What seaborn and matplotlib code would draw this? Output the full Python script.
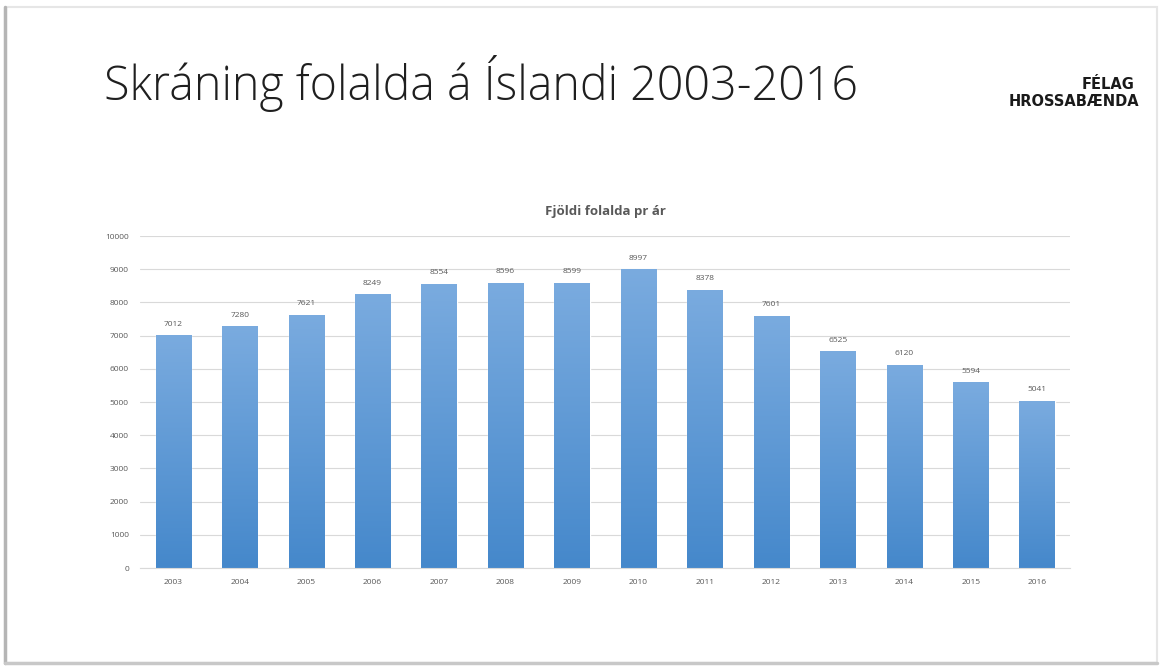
import numpy as np
import pandas as pd
import seaborn as sns
import matplotlib.pyplot as plt
from matplotlib.patches import Rectangle

years = ['2003', '2004', '2005', '2006', '2007', '2008', '2009',
         '2010', '2011', '2012', '2013', '2014', '2015', '2016']
foals = [7012, 7280, 7621, 8249, 8554, 8596, 8599,
         8997, 8378, 7601, 6525, 6120, 5594, 5041]
y_ticks = [0, 1000, 2000, 3000, 4000, 5000, 6000, 7000, 8000, 9000, 10000]

df = pd.DataFrame({'ár': years, 'fjöldi': foals})

sns.set_style("white")
plt.rcParams['font.family'] = ['Open Sans', 'DejaVu Sans']

fig = plt.figure(figsize=(11.6, 6.66), dpi=100)

# slide frame: darker on the left and bottom, faint on top
fig.patches.append(Rectangle((0.004, 0.004), 0.993, 0.985, transform=fig.transFigure,
                             fill=False, edgecolor='#e6e6e6', linewidth=1.5))
fig.lines.append(plt.Line2D([0.004, 0.004], [0.004, 0.989], transform=fig.transFigure,
                            color='#b5b5b5', linewidth=2.5))
fig.lines.append(plt.Line2D([0.004, 0.997], [0.004, 0.004], transform=fig.transFigure,
                            color='#c8c8c8', linewidth=2.5))

ax = fig.add_axes([0.1207, 0.147, 0.802, 0.4985])
sns.barplot(data=df, x='ár', y='fjöldi', color='#5b9bd5', width=0.53,
            saturation=1, ax=ax)

# vertical gradient on the bars, lighter at the top
grad = np.linspace(0, 1, 256).reshape(-1, 1)
cmap = sns.blend_palette(['#4588cb', '#7aabdf'], as_cmap=True)
for bar in ax.patches:
    x0, w, h = bar.get_x(), bar.get_width(), bar.get_height()
    im = ax.imshow(grad, cmap=cmap, origin='lower', aspect='auto',
                   extent=[x0, x0 + w, 0, h], zorder=bar.get_zorder() + 0.1)
    im.set_clip_path(bar)
    ax.text(x0 + w / 2, h + 230, f'{h:.0f}', ha='center', va='bottom',
            fontsize=6, color='#595959')

ax.set_xlim(-0.5, len(years) - 0.5)
ax.set_ylim(0, 10000)
ax.set_yticks(y_ticks)
ax.yaxis.grid(True, color='#d9d9d9', linewidth=0.8)
ax.set_axisbelow(True)
for s in ['top', 'right', 'left']:
    ax.spines[s].set_visible(False)
ax.spines['bottom'].set_color('#d9d9d9')
ax.tick_params(axis='both', length=0, labelsize=6, labelcolor='#595959', pad=8)
ax.set_xlabel('')
ax.set_ylabel('')
ax.set_title('Fjöldi folalda pr ár', fontsize=9.5, fontweight='bold',
             color='#595959', pad=15)

fig.text(0.09, 0.875, 'Skráning folalda á Íslandi 2003-2016', fontsize=33.5,
         fontweight='light', color='#1f1f1f', ha='left', va='center')

# logo text
logo_font = ['DejaVu Sans Condensed', 'DejaVu Sans']
fig.text(0.978, 0.873, 'FÉLAG', fontsize=10.5, fontweight='bold', ha='right',
         va='center', color='#1a1a1a', family=logo_font)
fig.text(0.982, 0.847, 'HROSSABÆNDA', fontsize=10.5, fontweight='bold', ha='right',
         va='center', color='#1a1a1a', family=logo_font)

fig.savefig('out.png', dpi=100)
